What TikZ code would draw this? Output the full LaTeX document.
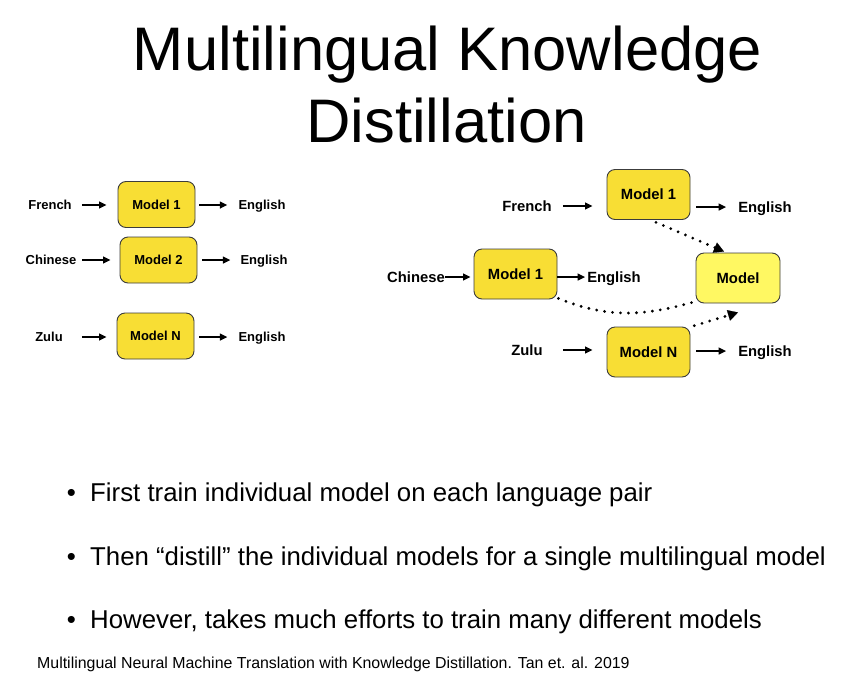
\documentclass[tikz,border=0pt]{standalone}
\usepackage{fontspec}
\setmainfont{Liberation Sans}
\usetikzlibrary{arrows.meta,calc}
\definecolor{gold}{RGB}{248,222,52}
\definecolor{lightgold}{RGB}{255,248,98}
\definecolor{edgegray}{RGB}{60,60,60}
\begin{document}
\begin{tikzpicture}[x=1pt,y=-1pt,
  box/.style={draw=edgegray,line width=0.9pt,fill=gold,rounded corners=8pt,
    minimum width=77pt,minimum height=46pt,inner sep=0pt,
    font=\bfseries\fontsize{13}{15}\selectfont},
  rbox/.style={box,minimum width=83pt,minimum height=50pt,
    font=\bfseries\fontsize{14.8}{17}\selectfont},
  lab/.style={inner sep=0pt,text height=9.3pt,text depth=0pt,
    font=\bfseries\fontsize{13}{15}\selectfont},
  rlab/.style={inner sep=0pt,text height=10.6pt,text depth=0pt,
    font=\bfseries\fontsize{14.8}{17}\selectfont},
  arr/.style={-{Triangle[length=7.5pt,width=7pt]},line width=1.4pt},
  dotarr/.style={line width=3.1pt,line cap=round,dash pattern=on 0pt off 8pt},
  bul/.style={anchor=base west,inner sep=0pt,font=\fontsize{25.8}{30}\selectfont},
]
\useasboundingbox (0,0) rectangle (845,672);

% title
\node[anchor=base,inner sep=0pt,font=\fontsize{61.5}{70}\selectfont] (t1) at (447.5,70)
  {Multilingual Knowledge};
\node[anchor=base,inner sep=0pt,font=\fontsize{61.5}{70}\selectfont] (t2) at (446.5,142)
  {Distillation};

% ---------- left diagram ----------
\node[lab] (l1) at (50,205) {French};
\node[box] (m1) at (156.5,204.5) {Model 1};
\node[lab] (e1) at (262,205) {English};
\node[lab] (l2) at (51,260) {Chinese};
\node[box] (m2) at (158.5,260) {Model 2};
\node[lab] (e2) at (264,260) {English};
\node[lab] (l3) at (49,337) {Zulu};
\node[box] (m3) at (155.5,336) {Model N};
\node[lab] (e3) at (262,337) {English};

\draw[arr,shorten <=10pt,shorten >=11pt] (l1.east) -- (l1.east -| m1.west);
\draw[arr,shorten <=4pt,shorten >=11pt] (e1.west -| m1.east) -- (e1.west);
\draw[arr,shorten <=6pt,shorten >=9pt] (l2.east) -- (l2.east -| m2.west);
\draw[arr,shorten <=5pt,shorten >=10pt] (e2.west -| m2.east) -- (e2.west);
\draw[arr,shorten <=19pt,shorten >=10pt] (l3.east) -- (l3.east -| m3.west);
\draw[arr,shorten <=5pt,shorten >=11pt] (e3.west -| m3.east) -- (e3.west);

% ---------- right diagram ----------
\node[rlab] (r1) at (527,206) {French};
\node[rbox] (rm1) at (648.5,194.5) {Model 1};
\node[rlab] (re1) at (765,207) {English};
\node[rlab] (r2) at (416,277) {Chinese};
\node[rbox] (rm2) at (515.5,274) {Model 1};
\node[rlab] (re2) at (614,277) {English};
\node[rbox,fill=lightgold,minimum width=84pt] (mm) at (738,278) {Model};
\node[rlab] (r3) at (527,350) {Zulu};
\node[rbox] (rm3) at (648.5,352) {Model N};
\node[rlab] (re3) at (765,351) {English};

\draw[arr,shorten <=11pt,shorten >=14pt] (r1.east) -- (r1.east -| rm1.west);
\draw[arr,shorten <=6pt,shorten >=12pt] (re1.west -| rm1.east) -- (re1.west);
\draw[arr,shorten <=0pt,shorten >=3pt] (r2.east) -- (r2.east -| rm2.west);
\draw[arr,shorten <=0pt,shorten >=2pt] (re2.west -| rm2.east) -- (re2.west);
\draw[arr,shorten <=20pt,shorten >=14pt] (r3.east) -- (r3.east -| rm3.west);
\draw[arr,shorten <=6pt,shorten >=12pt] (re3.west -| rm3.east) -- (re3.west);

% distillation links
\coordinate (tipA) at ($(mm.north)+(-14,-1)$);
\coordinate (tipB) at ($(mm.south)+(0,9)$);
\draw[dotarr,shorten <=6pt,shorten >=7pt] ($(rm1.south)+(2,0)$) -- (tipA);
\draw[-{Triangle[length=10pt,width=11pt]},line width=0.1pt,fill=black]
  ($(tipA)!10pt!($(rm1.south)+(2,0)$)$) -- (tipA);
\draw[dotarr] ($(rm2.south east)+(1,-1)$) to[out=-22,in=196] ($(mm.south west)+(0,-2)$);
\draw[dotarr,shorten <=3pt,shorten >=9pt] ($(rm3.north east)+(1,0)$) -- (tipB);
\draw[-{Triangle[length=10pt,width=11pt]},line width=0.1pt,fill=black]
  ($(tipB)!10pt!($(rm3.north east)+(1,0)$)$) -- (tipB);

% bullets
\node[bul] (b1) at (90,501) {First train individual model on each language pair};
\node[bul] (b2) at (90,565) {Then “distill” the individual models for a single multilingual model};
\node[bul] (b3) at (90,628) {However, takes much efforts to train many different models};
\foreach \b in {b1,b2,b3}
  \node[anchor=base east,inner sep=0pt,font=\fontsize{25.8}{30}\selectfont] at ($(\b.base west)+(-14,0)$) {•};

% footnote
\node[anchor=base west,inner sep=0pt,font=\fontsize{15.9}{18}\selectfont] (fn) at (37,668)
  {Multilingual Neural Machine Translation with Knowledge Distillation. Tan et. al. 2019};
\end{tikzpicture}
\end{document}
